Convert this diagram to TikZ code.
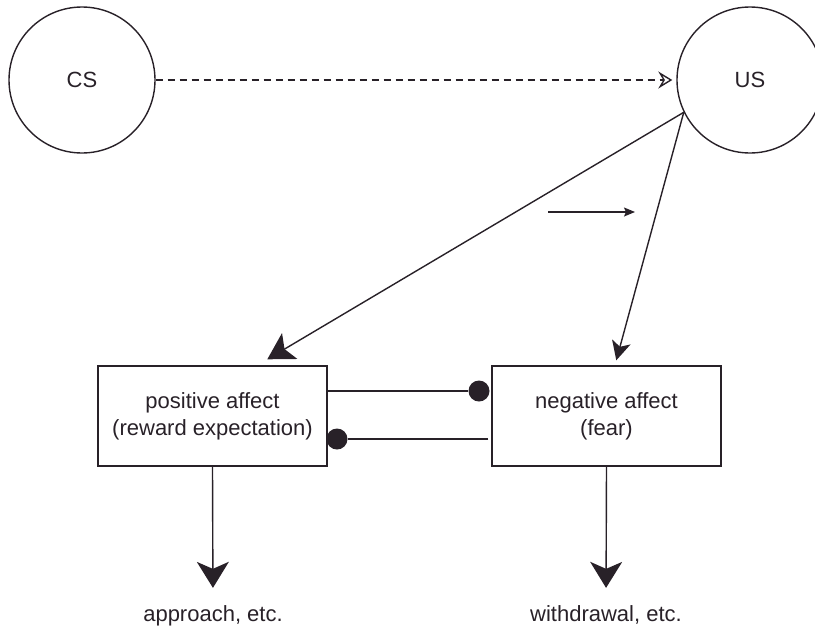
\documentclass[tikz,border=0pt]{standalone}
\usepackage{fontspec}
\setmainfont{Liberation Sans}
\usetikzlibrary{arrows.meta,calc}
\definecolor{ink}{RGB}{40,33,40}
\begin{document}
\begin{tikzpicture}[x=1pt,y=-1pt,
  every node/.style={text=ink,font=\fontsize{22}{27}\selectfont},
  ring/.style={draw=ink,line width=1.4pt,circle,minimum size=146pt,inner sep=0pt},
  affbox/.style={draw=ink,line width=1.4pt,minimum width=229pt,minimum height=100pt,inner sep=0pt,align=center},
  conn/.style={draw=ink,line width=1.4pt},
  bigtip/.style={-{Stealth[length=26pt,width=30pt,inset=6pt]}},
  midtip/.style={-{Stealth[length=19pt,width=19pt,inset=5pt]}},
  downtip/.style={-{Stealth[length=26pt,width=32pt,inset=7pt]}},
  dotn/.style={circle,fill=ink,minimum size=21pt,inner sep=0pt},
  lab/.style={anchor=base,inner sep=0pt}]
\useasboundingbox (0,0) rectangle (815,625);
\clip (0,0) rectangle (815,625);
\node[ring] (CS) at (82,80) {CS};
\node[ring] (US) at (750,80) {US};
\draw[conn,dash pattern=on 7pt off 5pt,-{Stealth[open,length=14pt,width=17pt,inset=5pt]},shorten >=4pt] (CS.east) -- (US.west);
\node[affbox] (pos) at (212.5,416) {positive affect\\(reward expectation)};
\node[affbox] (neg) at (606.5,416) {negative affect\\(fear)};
\draw[conn,bigtip] (US.206) -- ([xshift=170pt,yshift=6pt]pos.north west);
\draw[conn,midtip] (US.206) -- ([xshift=125pt,yshift=5pt]neg.north west);
\coordinate (sa) at (548,212);
\coordinate (sb) at (635,212);
\draw[conn,-{Stealth[length=11pt,width=9pt,inset=2pt]}] (sa) -- (sb);
\node[dotn] (d1) at (479,391) {};
\node[dotn] (d2) at (337,439) {};
\draw[conn] (pos.east |- d1) -- (d1);
\draw[conn] ([xshift=-3pt]neg.west |- d2) -- (d2);
\node[lab] (app) at (213,621) {approach, etc.};
\node[lab] (wd) at (606,621) {withdrawal, etc.};
\draw[conn,downtip,shorten >=17pt] (pos.south) -- (app.north);
\draw[conn,downtip,shorten >=17pt] (neg.south) -- (wd.north);
\end{tikzpicture}
\end{document}
